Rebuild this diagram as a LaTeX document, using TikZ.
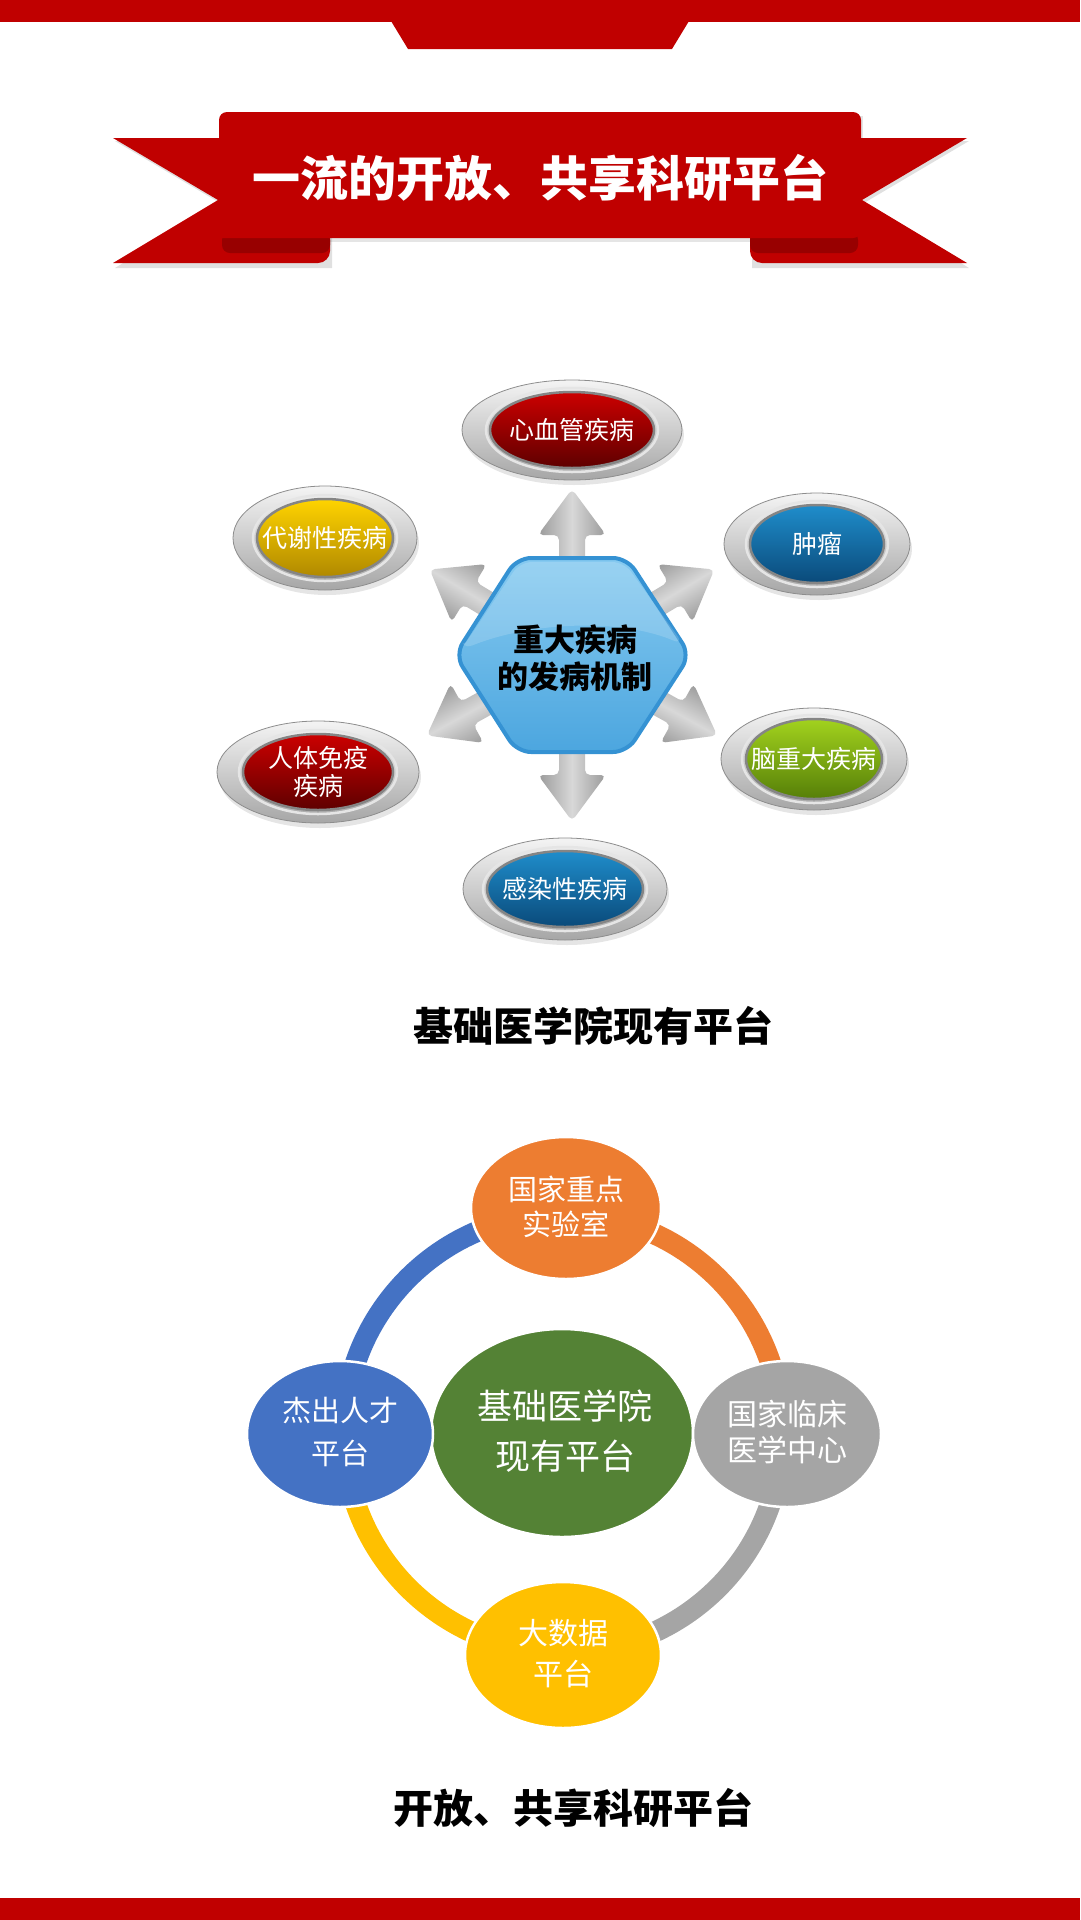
\documentclass[tikz,border=0pt]{standalone}
\usepackage{fontspec}
\setmainfont{Noto Sans CJK SC}
\usetikzlibrary{shapes.geometric}
\definecolor{rred}{HTML}{C00000}
\definecolor{folddark}{HTML}{980000}
\definecolor{pOrange}{HTML}{ED7D31}
\definecolor{pBlue}{HTML}{4472C4}
\definecolor{pGray}{HTML}{A5A5A5}
\definecolor{pYellow}{HTML}{FFC000}
\definecolor{pGreen}{HTML}{548235}
\definecolor{hexTop}{HTML}{86CAF0}
\definecolor{hexBot}{HTML}{4CA6DF}
\definecolor{hexLine}{HTML}{3592D3}
\definecolor{arrDark}{HTML}{9A9A9A}
\definecolor{arrLight}{HTML}{D8D8D8}
\definecolor{silverTop}{HTML}{F4F4F4}
\definecolor{silverBot}{HTML}{A6A6A6}
\definecolor{rimGray}{HTML}{858585}
\definecolor{redTop}{HTML}{CC0000}
\definecolor{redBot}{HTML}{5E0000}
\definecolor{yelTop}{HTML}{FFD400}
\definecolor{yelBot}{HTML}{B08800}
\definecolor{bluTop}{HTML}{1F8DCB}
\definecolor{bluBot}{HTML}{0A4A7A}
\definecolor{grnTop}{HTML}{A2D21E}
\definecolor{grnBot}{HTML}{567F08}
\tikzset{
  distext/.style={text=white, font=\fontsize{25}{28}\selectfont, align=center, inner sep=0},
  ptext/.style={text=white, align=center, inner sep=0},
  ringarc/.style={line width=21},
  pell/.style={draw=white, line width=2.5},
  headtext/.style={font=\fontsize{40}{44}\selectfont\bfseries, text=black, inner sep=0},
  arrowshape/.style={top color=arrDark, bottom color=arrDark, middle color=arrLight, rounded corners=5},
}
\newcommand\disell[9]{%
  \fill[black, opacity=0.10] (#2+2,#3-5) ellipse [x radius=#4, y radius=#5];
  \shade[top color=silverTop, bottom color=silverBot, draw=silverBot!85!black, line width=0.8] (#2,#3) ellipse [x radius=#4, y radius=#5];
  \draw[white!80!gray, line width=2.5] (#2,#3) ellipse [x radius=#6+4, y radius=#7+4];
  \shade[top color=#8Top, bottom color=#8Bot, draw=rimGray, line width=2.5] (#2,#3) ellipse [x radius=#6, y radius=#7];
  \node[distext] (#1) at (#2,#3) {#9};
}
\begin{document}
\begin{tikzpicture}[x=1pt,y=1pt]
\useasboundingbox (0,0) rectangle (1080,-1920);
\fill[white] (0,0) rectangle (1080,-1920);

% top and bottom bars
\fill[rred] (0,0) rectangle (1080,-22);
\fill[rred] (391,-21) -- (689,-21) -- (672,-49) -- (408,-49) -- cycle;
\fill[rred] (0,-1898) rectangle (1080,-1920);

% banner shadow
\fill[black, opacity=0.12] (115,-141) -- (332,-141) -- (332,-268) -- (115,-268) -- (220,-203) -- cycle;
\fill[black, opacity=0.12] (969,-141) -- (752,-141) -- (752,-268) -- (969,-268) -- (864,-203) -- cycle;
\fill[black, opacity=0.10] (221,-116) rectangle (863,-242);
% banner wings
\fill[rred] (113,-138) -- (330,-138) -- (330,-251) arc[start angle=0, end angle=-90, radius=12] -- (113,-263) -- (218,-200) -- cycle;
\fill[rred] (967,-138) -- (750,-138) -- (750,-251) arc[start angle=180, end angle=270, radius=12] -- (967,-263) -- (862,-200) -- cycle;
\fill[folddark, rounded corners=8] (222,-232) rectangle (330,-253);
\fill[folddark, rounded corners=8] (750,-232) rectangle (858,-253);
% banner body
\fill[rred, rounded corners=8] (219,-238) -- (219,-112) -- (861,-112) -- (861,-238) [sharp corners] -- cycle;
\node[font=\fontsize{48}{52}\selectfont\bfseries, text=white, inner sep=0] (title) at (540,-178) {一流的开放、共享科研平台};

% ---------- disease diagram ----------
\coordinate (hexc) at (572,-655);
\foreach \a in {90,31,-29,149,209,270} {
  \begin{scope}[transform canvas={shift={(hexc)}, rotate=\a}]
    \shade[arrowshape] (0,13) -- (120,13) -- (120,34) -- (166,0) -- (120,-34) -- (120,-13) -- (0,-13) -- cycle;
  \end{scope}
}
\shade[top color=hexTop, bottom color=hexBot, draw=hexLine, line width=4, rounded corners=14]
  (455,-655) -- (517,-558) -- (627,-558) -- (690,-655) -- (627,-752) -- (517,-752) -- cycle;
\fill[white, opacity=0.16, rounded corners=12] (461,-650) -- (520,-562) -- (624,-562) -- (684,-645) .. controls (620,-618) and (530,-622) .. (461,-650) -- cycle;
\node[font=\fontsize{31}{37}\selectfont\bfseries, align=center, inner sep=0] (hex) at (575,-658) {重大疾病\\的发病机制};

\disell{d1}{572}{-430}{110}{50}{82}{38}{red}{心血管疾病}
\disell{d2}{325}{-538}{92}{52}{68}{39}{yel}{代谢性疾病}
\disell{d3}{817}{-544}{93}{51}{67}{39}{blu}{肿瘤}
\disell{d4}{318}{-772}{101}{51}{75}{38}{red}{人体免疫\\疾病}
\disell{d5}{814}{-759}{93}{51}{68}{40}{grn}{脑重大疾病}
\disell{d6}{565}{-889}{102}{51}{78}{38}{blu}{感染性疾病}

\node[headtext] (h1) at (593,-1026) {基础医学院现有平台};

% ---------- platform diagram ----------
\coordinate (pc) at (563,-1433);
\draw[ringarc, pOrange] (pc) ++(90:219) arc[start angle=90, end angle=0, radius=219];
\draw[ringarc, pGray] (pc) ++(0:219) arc[start angle=0, end angle=-90, radius=219];
\draw[ringarc, pYellow] (pc) ++(-90:219) arc[start angle=-90, end angle=-180, radius=219];
\draw[ringarc, pBlue] (pc) ++(180:219) arc[start angle=180, end angle=90, radius=219];

\filldraw[pell, fill=pGreen] (562,-1433) ellipse [x radius=131, y radius=104];
\node[ptext, font=\fontsize{35}{50}\selectfont] (pm) at (565,-1431) {基础医学院\\现有平台};

\filldraw[pell, fill=pOrange] (566,-1208) ellipse [x radius=95, y radius=71];
\node[ptext, font=\fontsize{29}{35}\selectfont] (p1) at (566,-1207) {国家重点\\实验室};

\filldraw[pell, fill=pBlue] (340,-1434) ellipse [x radius=93, y radius=73];
\node[ptext, font=\fontsize{29}{43}\selectfont] (p2) at (340,-1432) {杰出人才\\平台};

\filldraw[pell, fill=pGray] (787,-1434) ellipse [x radius=94, y radius=73];
\node[ptext, font=\fontsize{30}{36}\selectfont] (p3) at (787,-1432) {国家临床\\医学中心};

\filldraw[pell, fill=pYellow] (563,-1655) ellipse [x radius=98, y radius=73];
\node[ptext, font=\fontsize{30}{41}\selectfont] (p4) at (563,-1654) {大数据\\平台};

\node[headtext] (h2) at (573,-1808) {开放、共享科研平台};
\end{tikzpicture}
\end{document}
